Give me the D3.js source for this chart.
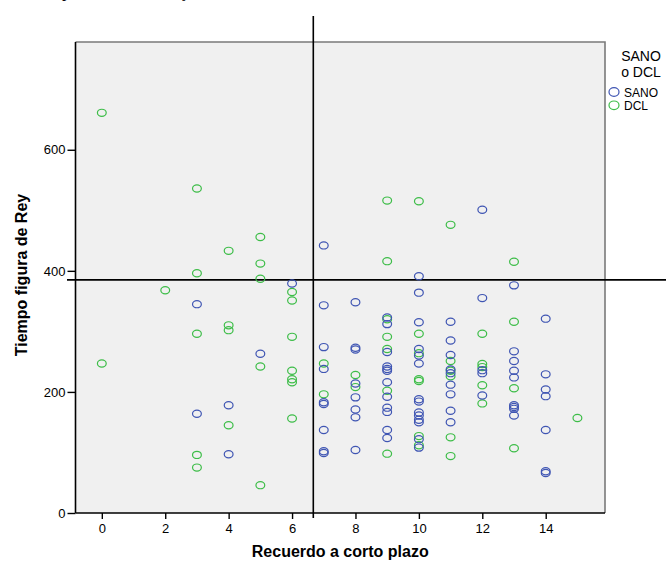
<!DOCTYPE html>
<html>
<head>
<meta charset="utf-8">
<script src="https://cdn.jsdelivr.net/npm/d3@7"></script>
<style>
  html, body { margin: 0; padding: 0; background: #ffffff; }
  svg { display: block; }
  text { font-family: Arial, "Liberation Sans", sans-serif; }
</style>
</head>
<body>
<div id="chart"></div>
<script>
// Recuerdo a corto plazo (x) vs. Tiempo figura de Rey (y), by group
const sanoRecall = [3,3, 4,4, 5, 6,
  7,7,7,7,7,7,7,7,7,
  8,8,8,8,8,8,8,8,
  9,9,9,9,9,9,9,9,9,9,9,9,
  10,10,10,10,10,10,10,10,10,10,10,10,10,10,
  11,11,11,11,11,11,11,11,11,
  12,12,12,12,12,
  13,13,13,13,13,13,13,13,13,
  14,14,14,14,14,14,14];
const sanoTime = [345,164, 178,97, 263, 379,
  442,343,274,238,183,180,137,102,99,
  348,273,270,214,191,171,158,104,
  323,312,266,242,238,235,216,192,174,167,137,124,
  391,364,315,271,260,247,188,184,166,161,154,150,122,108,
  316,285,261,237,231,212,196,169,150,
  501,355,236,231,194,
  376,267,251,235,224,178,175,172,161,
  321,229,204,193,137,69,66];

const dclRecall = [0,0, 2, 3,3,3,3,3, 4,4,4,4, 5,5,5,5,5,
  6,6,6,6,6,6,6, 7,7, 8,8,
  9,9,9,9,9,9,9,
  10,10,10,10,10,10,10,
  11,11,11,11,11,11,
  12,12,12,12,12,
  13,13,13,13, 15];
const dclTime = [661,247, 368, 536,396,296,96,75, 433,310,302,145, 456,412,387,242,46,
  365,351,291,235,221,216,156, 247,196, 228,208,
  516,416,320,291,271,202,98,
  515,296,264,221,218,127,112,
  476,251,235,226,125,94,
  296,246,241,211,181,
  415,316,206,107, 157];

const xTicks = [0, 2, 4, 6, 8, 10, 12, 14];
const yTicks = [0, 200, 400, 600];
const groupNames = ["SANO", "DCL"];
const refRecall = 6.67;   // vertical reference line
const refTime = 385;      // horizontal reference line

const W = 666, H = 561;
const colors = { SANO: "#3f55b3", DCL: "#3dbd48" };

const svg = d3.select("#chart").append("svg")
  .attr("width", W).attr("height", H);

const x = d3.scaleLinear().domain([-0.83, 15.87]).range([75.5, 605]);
const y = d3.scaleLinear().domain([0, 778]).range([513, 42]);

// clipped line of the surrounding document text
svg.append("text").attr("x", 62).attr("y", -3)
  .style("font-family", "'Liberation Serif', 'Times New Roman', serif")
  .style("font-size", "17px").attr("fill", "#000").text("p");
svg.append("text").attr("x", 182).attr("y", -3)
  .style("font-family", "'Liberation Serif', 'Times New Roman', serif")
  .style("font-size", "17px").attr("fill", "#000").text("y");

// plot background
svg.append("rect")
  .attr("x", x.range()[0]).attr("y", y.range()[1])
  .attr("width", x.range()[1] - x.range()[0])
  .attr("height", y.range()[0] - y.range()[1])
  .attr("fill", "#f0f0f0");

// top and right frame
svg.append("path")
  .attr("d", `M${x.range()[0]},${y.range()[1]}H${x.range()[1]}V${y.range()[0]}`)
  .attr("fill", "none").attr("stroke", "#7a7a7a").attr("stroke-width", 1.6);

// axes
const yAxis = svg.append("g")
  .attr("transform", `translate(${x.range()[0]},0)`)
  .call(d3.axisLeft(y).tickValues(yTicks).tickSize(8).tickSizeOuter(0).tickPadding(2));
const xAxis = svg.append("g")
  .attr("transform", `translate(0,${y.range()[0]})`)
  .call(d3.axisBottom(x).tickValues(xTicks).tickSize(6).tickSizeOuter(0).tickPadding(5));

[xAxis, yAxis].forEach(g => {
  g.select(".domain").attr("stroke", "#000").attr("stroke-width", 1.6);
  g.selectAll(".tick line").attr("stroke", "#000").attr("stroke-width", 1.4);
  g.selectAll(".tick text").attr("fill", "#000")
    .style("font-size", "13px").style("font-family", "Arial, 'Liberation Sans', sans-serif");
});
// the bottom axis line starts at the left axis
xAxis.select(".domain").attr("d", `M${x.range()[0]},0H${x.range()[1]}`);
yAxis.select(".domain").attr("d", `M0,${y.range()[0]}V${y.range()[1]}`);

// reference lines
svg.append("line")
  .attr("x1", x(refRecall)).attr("x2", x(refRecall))
  .attr("y1", 16).attr("y2", y(0) + 5)
  .attr("stroke", "#000").attr("stroke-width", 1.6);
svg.append("line")
  .attr("x1", 67).attr("x2", W)
  .attr("y1", y(refTime)).attr("y2", y(refTime))
  .attr("stroke", "#000").attr("stroke-width", 1.6);

// points
function drawGroup(rec, tim, color) {
  svg.append("g").selectAll("ellipse")
    .data(rec.map((r, i) => [r, tim[i]]))
    .join("ellipse")
    .attr("cx", d => x(d[0]))
    .attr("cy", d => y(d[1]))
    .attr("rx", 4.4).attr("ry", 3.6)
    .attr("fill", "none")
    .attr("stroke", color).attr("stroke-width", 1.2);
}
drawGroup(dclRecall, dclTime, colors.DCL);
drawGroup(sanoRecall, sanoTime, colors.SANO);

// axis titles
svg.append("text")
  .attr("x", (x.range()[0] + x.range()[1]) / 2 + 0)
  .attr("y", 557)
  .attr("text-anchor", "middle")
  .style("font-size", "16px").style("font-weight", "bold")
  .text("Recuerdo a corto plazo");
svg.append("text")
  .attr("transform", `translate(27,${275}) rotate(-90)`)
  .attr("text-anchor", "middle")
  .style("font-size", "16px").style("font-weight", "bold")
  .text("Tiempo figura de Rey");

// legend
const lg = svg.append("g");
lg.append("text").attr("x", 641).attr("y", 61).attr("text-anchor", "middle")
  .style("font-size", "14px").text("SANO");
lg.append("text").attr("x", 641).attr("y", 77).attr("text-anchor", "middle")
  .style("font-size", "14px").text("o DCL");
groupNames.forEach((g, i) => {
  const cy = 92 + i * 13.3;
  lg.append("ellipse").attr("cx", 614).attr("cy", cy)
    .attr("rx", 5).attr("ry", 4.3)
    .attr("fill", "none").attr("stroke", colors[g]).attr("stroke-width", 1.2);
  lg.append("text").attr("x", 624).attr("y", cy + 4.5)
    .style("font-size", "12px").text(g);
});
</script>
</body>
</html>
